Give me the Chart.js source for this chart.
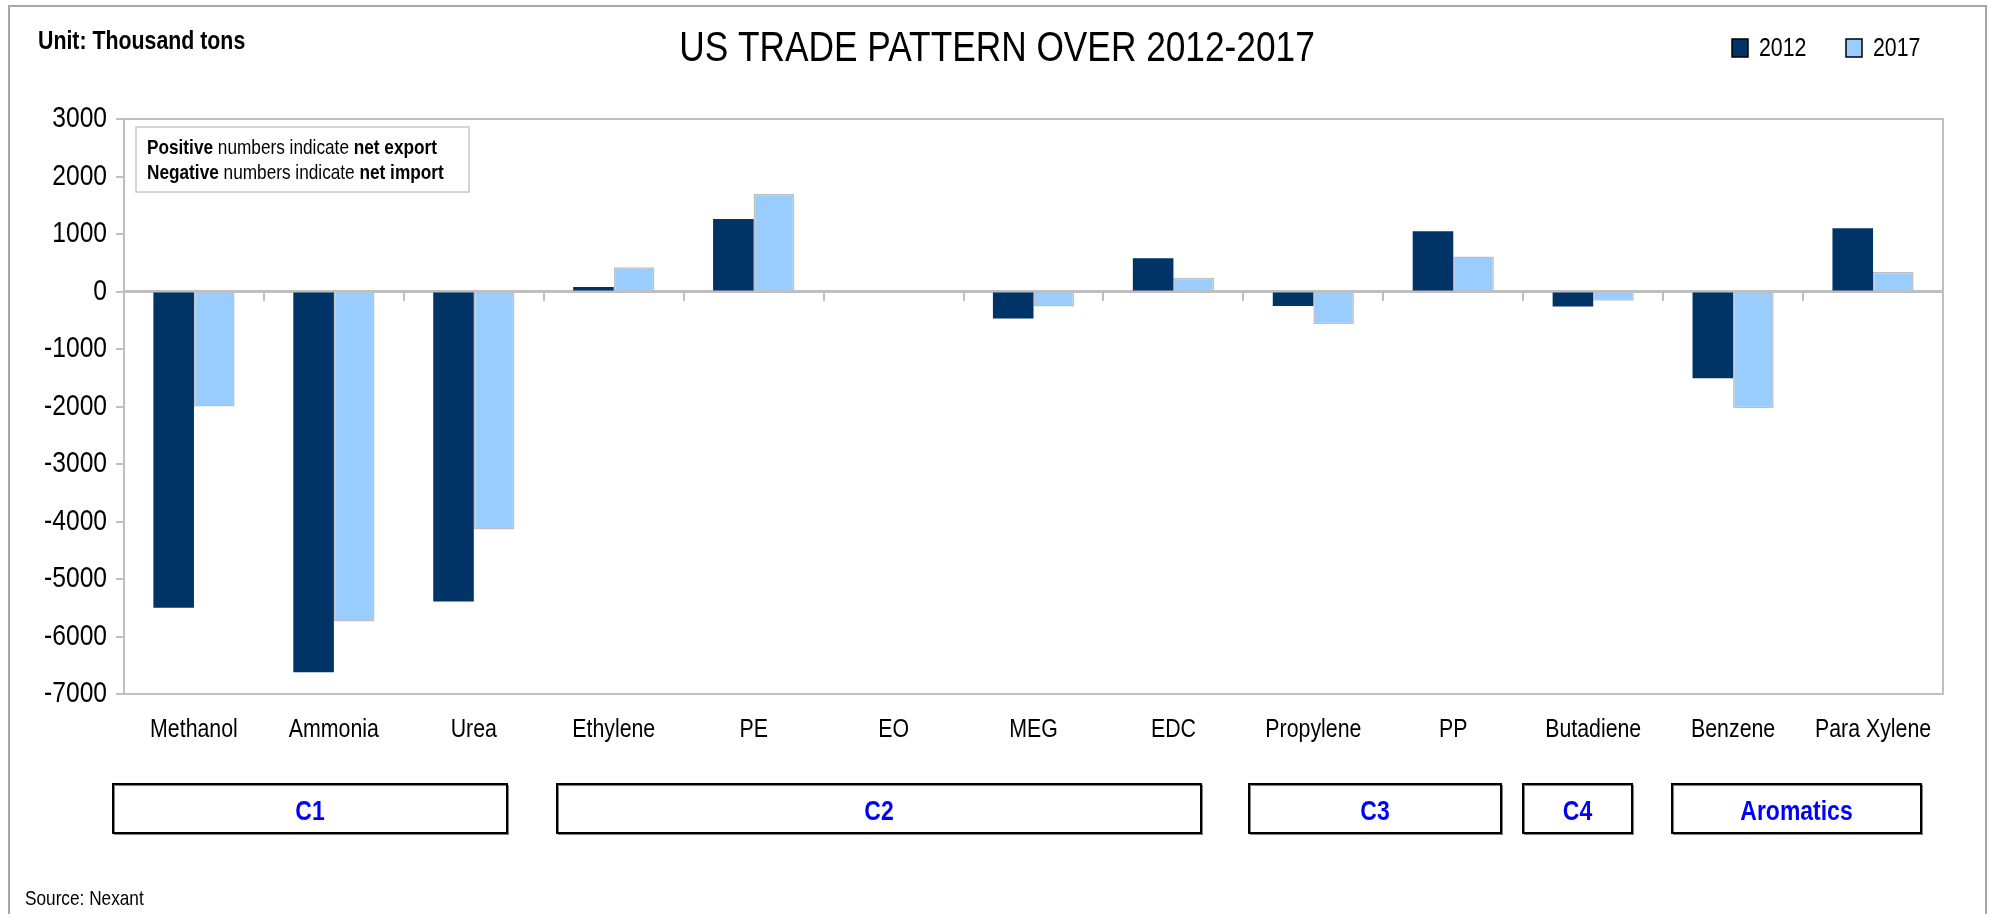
<!DOCTYPE html>
<html>
<head>
<meta charset="utf-8">
<script src="https://cdn.jsdelivr.net/npm/chart.js@4/dist/chart.umd.min.js"></script>
<style>
  html, body { margin: 0; padding: 0; background: #ffffff; }
  #wrap { position: relative; width: 1992px; height: 914px; }
  canvas { display: block; }
</style>
</head>
<body>
<div id="wrap"><canvas id="c" width="1992" height="914"></canvas></div>
<script>
// ---------- data ----------
const categories = ['Methanol', 'Ammonia', 'Urea', 'Ethylene', 'PE', 'EO', 'MEG', 'EDC', 'Propylene', 'PP', 'Butadiene', 'Benzene', 'Para Xylene'];
const seriesNames = ['2012', '2017'];
const values2012 = [-5500, -6620, -5390, 80, 1260, null, -470, 580, -250, 1050, -260, -1510, 1100];
const values2017 = [-2000, -5740, -4140, 420, 1700, null, -260, 240, -570, 610, -160, -2030, 340];
const yMin = -7000;
const yMax = 3000;
const yStep = 1000;
const groupNames = ['C1', 'C2', 'C3', 'C4', 'Aromatics'];
const titleText = 'US TRADE PATTERN OVER 2012-2017';
const unitText = 'Unit: Thousand tons';
const sourceText = 'Source: Nexant';
const noteLines = [
  [['Positive', true], [' numbers indicate ', false], ['net export', true]],
  [['Negative', true], [' numbers indicate ', false], ['net import', true]]
];

// ---------- layout / style ----------
const FONT = '"Liberation Sans", Arial, sans-serif';
const NARROW = 0.82; // horizontal squeeze to imitate a narrow (condensed) face
const COLORS = ['#003366', '#99CCFF'];
const GREY = '#BFBFBF';
const groupBoxes = [ // x, width (pixels) of the category group boxes
  [113, 394], [557, 644], [1249, 252], [1523, 109], [1672, 249]
];
const groupBoxY = 784, groupBoxH = 49;

Chart.defaults.font.family = FONT;
Chart.defaults.color = '#000000';

function narrowText(ctx) {
  if (ctx.__narrow) return;
  ctx.__narrow = true;
  const origFill = ctx.fillText;
  ctx.fillText = function (text, x, y, maxWidth) {
    this.save();
    this.translate(x, y);
    this.scale(NARROW, 1);
    if (maxWidth !== undefined) origFill.call(this, text, 0, 0, maxWidth / NARROW);
    else origFill.call(this, text, 0, 0);
    this.restore();
  };
}

const decor = {
  id: 'decor',
  beforeInit(chart) { narrowText(chart.ctx); },
  beforeDraw(chart) {
    const ctx = chart.ctx;
    narrowText(ctx);
    ctx.save();
    ctx.fillStyle = '#ffffff';
    ctx.fillRect(0, 0, chart.width, chart.height);
    ctx.restore();
  },
  afterDraw(chart) {
    const ctx = chart.ctx;
    const a = chart.chartArea;
    ctx.save();
    // plot area outline (top / right)
    ctx.strokeStyle = GREY;
    ctx.lineWidth = 2;
    ctx.beginPath();
    ctx.moveTo(a.left, a.top);
    ctx.lineTo(a.right, a.top);
    ctx.lineTo(a.right, a.bottom);
    ctx.stroke();

    // outer frame
    ctx.strokeStyle = '#A6A6A6';
    ctx.lineWidth = 2;
    ctx.strokeRect(9, 6, 1977, 940);

    // title
    ctx.fillStyle = '#000';
    ctx.textBaseline = 'middle';
    ctx.textAlign = 'center';
    ctx.font = '43px ' + FONT;
    ctx.fillText(titleText, 997, 49);

    // unit
    ctx.textAlign = 'left';
    ctx.font = 'bold 26px ' + FONT;
    ctx.fillText(unitText, 38, 42);

    // legend
    ctx.font = '26px ' + FONT;
    const legX = [1732, 1846];
    seriesNames.forEach((n, i) => {
      ctx.fillStyle = COLORS[i];
      ctx.fillRect(legX[i], 39, 16, 18);
      ctx.strokeStyle = '#000';
      ctx.lineWidth = 1.5;
      ctx.strokeRect(legX[i], 39, 16, 18);
      ctx.fillStyle = '#000';
      ctx.fillText(n, legX[i] + 27, 49);
    });

    // note box
    ctx.fillStyle = '#fff';
    ctx.fillRect(136, 127, 333, 65);
    ctx.strokeStyle = '#C8C8C8';
    ctx.lineWidth = 1.5;
    ctx.strokeRect(136, 127, 333, 65);
    ctx.fillStyle = '#000';
    noteLines.forEach((line, li) => {
      let x = 147;
      const y = 148 + li * 25;
      line.forEach(([txt, bold]) => {
        ctx.font = (bold ? 'bold ' : '') + '21px ' + FONT;
        ctx.fillText(txt, x, y);
        x += ctx.measureText(txt).width * NARROW;
      });
    });

    // group boxes
    groupNames.forEach((g, i) => {
      const [x, w] = groupBoxes[i];
      ctx.strokeStyle = '#808080';
      ctx.lineWidth = 1;
      ctx.strokeRect(x + 1.5, groupBoxY + 1.5, w, groupBoxH);
      ctx.strokeStyle = '#000';
      ctx.lineWidth = 2;
      ctx.strokeRect(x, groupBoxY, w, groupBoxH);
      ctx.fillStyle = '#0000FF';
      ctx.textAlign = 'center';
      ctx.font = 'bold 28px ' + FONT;
      ctx.fillText(g, x + w / 2, groupBoxY + groupBoxH / 2 + 4);
    });

    // source
    ctx.fillStyle = '#000';
    ctx.textAlign = 'left';
    ctx.font = '21px ' + FONT;
    ctx.fillText(sourceText, 25, 899);
    ctx.restore();
  }
};

new Chart(document.getElementById('c'), {
  type: 'bar',
  data: {
    labels: categories,
    datasets: [
      { label: seriesNames[0], data: values2012, backgroundColor: COLORS[0], borderColor: '#24507E', borderWidth: 0, xAxisID: 'x', yAxisID: 'y' },
      { label: seriesNames[1], data: values2017, backgroundColor: COLORS[1], borderColor: GREY, borderWidth: 1.5, xAxisID: 'x', yAxisID: 'y' }
    ]
  },
  options: {
    responsive: false,
    animation: false,
    devicePixelRatio: 1,
    layout: { padding: { top: 119, right: 49, left: 0, bottom: 160 } },
    datasets: { bar: { categoryPercentage: 0.58, barPercentage: 1.0 } },
    plugins: { legend: { display: false }, title: { display: false }, tooltip: { enabled: false } },
    scales: {
      x: {
        type: 'category',
        position: 'bottom',
        offset: true,
        grid: { display: false },
        border: { display: true, color: GREY, width: 2 },
        ticks: { color: '#000', font: { size: 26 }, padding: 12, maxRotation: 0, autoSkip: false },
        afterFit(s) { s.height = 60; }
      },
      x2: {
        type: 'category',
        position: { y: 0 },
        offset: true,
        grid: { display: true, drawOnChartArea: false, drawTicks: true, tickLength: 8, color: GREY, lineWidth: 2, offset: true },
        border: { display: true, color: GREY, width: 3 },
        ticks: { display: false }
      },
      y: {
        type: 'linear',
        position: 'left',
        min: yMin,
        max: yMax,
        ticks: { stepSize: yStep, color: '#000', font: { size: 30 }, padding: 9, callback: (v) => String(v) },
        grid: { display: true, drawOnChartArea: false, drawTicks: true, tickLength: 8, color: GREY, lineWidth: 2 },
        border: { display: true, color: GREY, width: 2 },
        afterFit(s) { s.width = 124; }
      }
    }
  },
  plugins: [decor]
});
</script>
</body>
</html>
